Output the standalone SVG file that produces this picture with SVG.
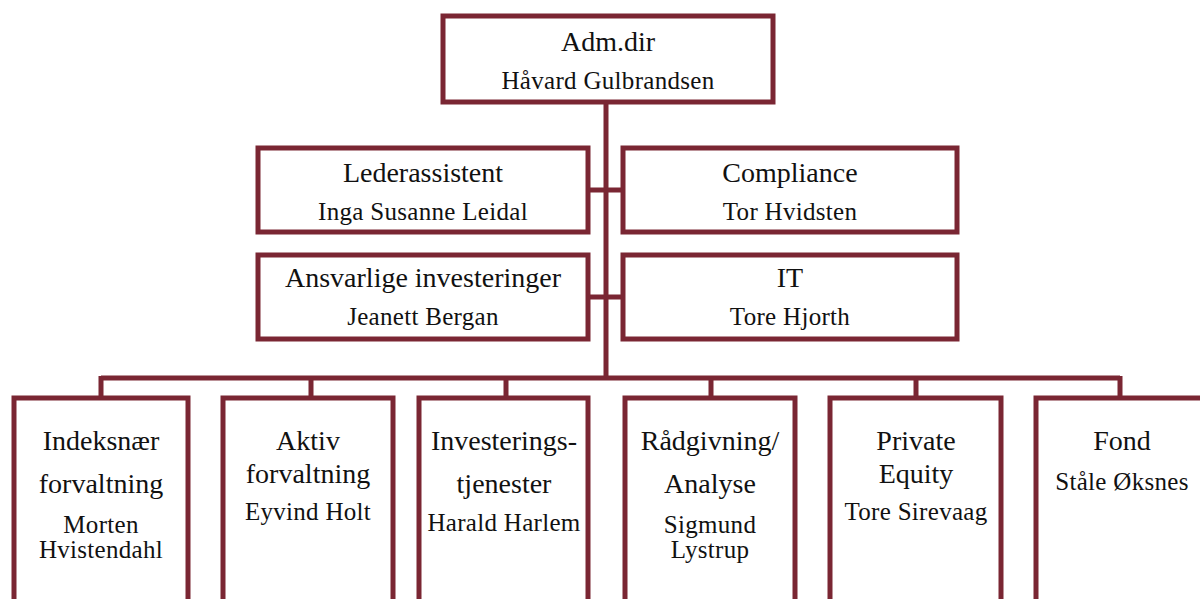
<svg xmlns="http://www.w3.org/2000/svg" width="1200" height="599" viewBox="0 0 1200 599">
<style>
.box{fill:#fff;stroke:#7a2633;stroke-width:5}
.ln{stroke:#7a2633;stroke-width:5;fill:none}
text{font-family:"Liberation Serif","Times New Roman",serif;fill:#111;text-anchor:middle}
.t{font-size:28px}
.n{font-size:25px;letter-spacing:0.3px}
</style>
<rect width="1200" height="599" fill="#fff"/>
<g id="connectors">
<path class="ln" d="M606 102V378"/>
<path class="ln" d="M588 190H623M588 297H623"/>
<path class="ln" d="M101 378H1120M101 376V398M311 378V398M506 378V398M711 378V398M916 378V398M1120 376V398"/>
</g>
<g id="adm"><rect class="box" x="443" y="16" width="330" height="86"/><text class="t" x="608" y="51">Adm.dir</text><text class="n" x="608" y="89">Håvard Gulbrandsen</text></g>
<g id="lederassistent"><rect class="box" x="258" y="148" width="330" height="84"/><text class="t" x="423" y="182">Lederassistent</text><text class="n" x="423" y="220">Inga Susanne Leidal</text></g>
<g id="compliance"><rect class="box" x="623" y="148" width="334" height="84"/><text class="t" x="790" y="182">Compliance</text><text class="n" x="790" y="220">Tor Hvidsten</text></g>
<g id="ansvarlige"><rect class="box" x="258" y="255" width="330" height="84"/><text class="t" x="423" y="287">Ansvarlige investeringer</text><text class="n" x="423" y="325">Jeanett Bergan</text></g>
<g id="it"><rect class="box" x="623" y="255" width="334" height="84"/><text class="t" x="790" y="287">IT</text><text class="n" x="790" y="325">Tore Hjorth</text></g>
<g id="indeksnaer"><rect class="box" x="14" y="398" width="174" height="220"/><text class="t" x="101" y="450">Indeksnær</text><text class="t" x="101" y="493">forvaltning</text><text class="n" x="101" y="533">Morten</text><text class="n" x="101" y="558">Hvistendahl</text></g>
<g id="aktiv"><rect class="box" x="223" y="398" width="170" height="220"/><text class="t" x="308" y="450">Aktiv</text><text class="t" x="308" y="483">forvaltning</text><text class="n" x="308" y="520">Eyvind Holt</text></g>
<g id="investeringstjenester"><rect class="box" x="419" y="398" width="169" height="220"/><text class="t" x="504" y="450">Investerings-</text><text class="t" x="504" y="493">tjenester</text><text class="n" x="504" y="531">Harald Harlem</text></g>
<g id="radgivning"><rect class="box" x="625" y="398" width="170" height="220"/><text class="t" x="710" y="450">Rådgivning/</text><text class="t" x="710" y="493">Analyse</text><text class="n" x="710" y="533">Sigmund</text><text class="n" x="710" y="558">Lystrup</text></g>
<g id="private-equity"><rect class="box" x="830" y="398" width="171" height="220"/><text class="t" x="916" y="450">Private</text><text class="t" x="916" y="483">Equity</text><text class="n" x="916" y="520">Tore Sirevaag</text></g>
<g id="fond"><rect class="box" x="1036" y="398" width="180" height="220"/><text class="t" x="1122" y="450">Fond</text><text class="n" x="1122" y="490">Ståle Øksnes</text></g>
</svg>
